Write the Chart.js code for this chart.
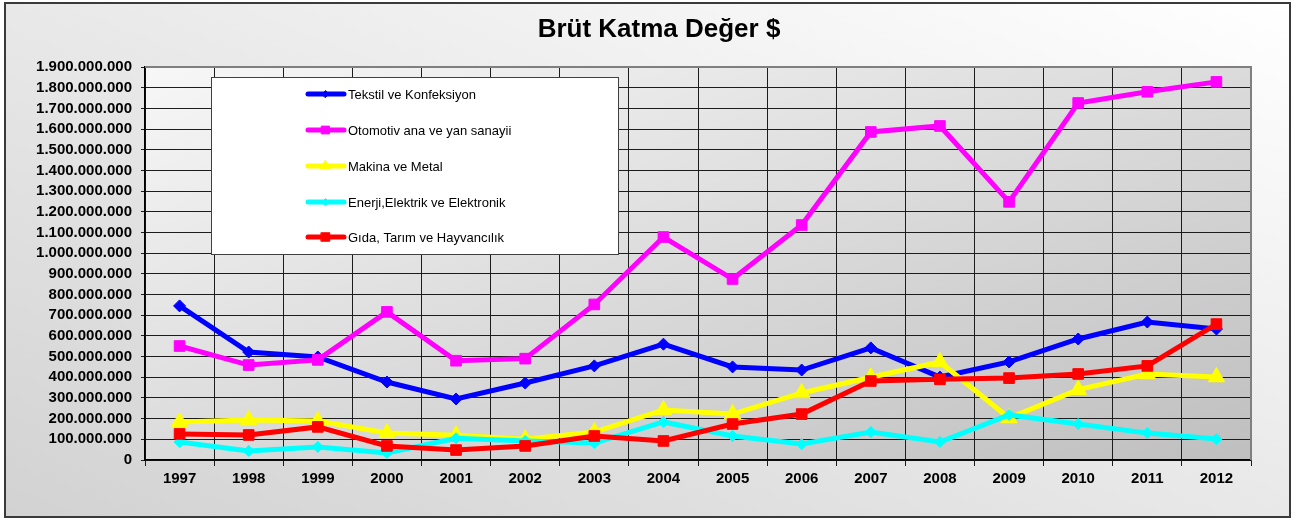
<!DOCTYPE html>
<html lang="tr">
<head>
<meta charset="utf-8">
<title>Brüt Katma Değer $</title>
<script src="https://cdn.jsdelivr.net/npm/chart.js@4.4.1/dist/chart.umd.min.js"></script>
<style>
    html, body { margin: 0; padding: 0; background: #fff; }
    #wrap { width: 1293px; height: 519px; }
</style>
</head>
<body>
<div id="wrap"><canvas id="myChart" width="1293" height="519"></canvas></div>
<script>
"use strict"

const chartTitle = "Brüt Katma Değer $";
const years = ["1997", "1998", "1999", "2000", "2001", "2002", "2003", "2004",
               "2005", "2006", "2007", "2008", "2009", "2010", "2011", "2012"];

const tekstil  = [745e6, 522e6, 498e6, 377e6, 295e6, 372e6, 455e6, 560e6,
                  450e6, 435e6, 542e6, 401e6, 474e6, 585e6, 667e6, 633e6];
const otomotiv = [551e6, 459e6, 484e6, 716e6, 480e6, 490e6, 752e6, 1078e6,
                  875e6, 1136e6, 1586e6, 1615e6, 1248e6, 1726e6, 1780e6, 1828e6];
const makina   = [184e6, 193e6, 189e6, 131e6, 120e6, 100e6, 135e6, 242e6,
                  222e6, 324e6, 400e6, 474e6, 203e6, 340e6, 416e6, 401e6];
const enerji   = [87e6, 44e6, 63e6, 34e6, 105e6, 92e6, 82e6, 184e6,
                  116e6, 77e6, 135e6, 87e6, 218e6, 174e6, 130e6, 101e6];
const gida     = [126e6, 121e6, 160e6, 68e6, 48e6, 68e6, 116e6, 92e6,
                  174e6, 222e6, 382e6, 390e6, 396e6, 416e6, 455e6, 657e6];

const seriesNames = ["Tekstil ve Konfeksiyon", "Otomotiv ana ve yan sanayii", "Makina ve Metal",
                     "Enerji,Elektrik ve Elektronik", "Gıda, Tarım ve Hayvancılık"];

const yMax = 1900000000;
const yStep = 100000000;

const fontFamily = "Arial, 'Liberation Sans', sans-serif";

// 1234567 -> 1.234.567
function formatDots(value){
    return String(Math.round(value)).replace(/\B(?=(\d{3})+(?!\d))/g, ".");
}

function makeSet(label, data, color, style, radius, order){
    return {
        label: label,
        data: data,
        borderColor: color,
        backgroundColor: color,
        borderWidth: 5,
        pointStyle: style,
        pointRadius: radius,
        pointBackgroundColor: color,
        pointBorderColor: color,
        pointBorderWidth: 1,
        tension: 0,
        order: order
    };
}

const datasets = [
    makeSet(seriesNames[0], tekstil,  "#0000ff", "rectRot",  6,   5),
    makeSet(seriesNames[1], otomotiv, "#ff00ff", "rect",     7.5, 4),
    makeSet(seriesNames[2], makina,   "#ffff00", "triangle", 9.5, 3),
    makeSet(seriesNames[3], enerji,   "#00ffff", "rectRot",  5.5, 2),
    makeSet(seriesNames[4], gida,     "#ff0000", "rect",     7.5, 1)
];

// gradient in normalised box space, so the corners get the colours
function fillBoxGradient(ctx, x, y, w, h, x0, y0, x1, y1, c0, c1){
    ctx.save();
    ctx.translate(x, y);
    ctx.scale(w, h);
    const g = ctx.createLinearGradient(x0, y0, x1, y1);
    g.addColorStop(0, c0);
    g.addColorStop(1, c1);
    ctx.fillStyle = g;
    ctx.fillRect(0, 0, 1, 1);
    ctx.restore();
}

const decorPlugin = {
    id: "decor",
    beforeDraw(chart){
        const ctx = chart.ctx;
        const a = chart.chartArea;
        ctx.save();
        ctx.fillStyle = "#ffffff";
        ctx.fillRect(0, 0, chart.width, chart.height);
        fillBoxGradient(ctx, 5, 3, 1285, 514, 0, 1, 1, 0, "#d2d2d2", "#ffffff");
        fillBoxGradient(ctx, a.left, a.top, a.right - a.left, a.bottom - a.top,
                        0, 0, 1, 1, "#f7f7f7", "#bfbfbf");
        ctx.restore();
    },
    afterDraw(chart){
        const ctx = chart.ctx;
        const a = chart.chartArea;
        ctx.save();

        // plot frame top / right
        ctx.strokeStyle = "#7f7f7f";
        ctx.lineWidth = 2;
        ctx.beginPath();
        ctx.moveTo(a.left, a.top);
        ctx.lineTo(a.right, a.top);
        ctx.lineTo(a.right, a.bottom);
        ctx.stroke();

        // legend box
        ctx.fillStyle = "#ffffff";
        ctx.fillRect(211, 77, 407, 177);
        ctx.strokeStyle = "#404040";
        ctx.lineWidth = 1;
        ctx.strokeRect(211.5, 77.5, 407, 177);

        const rows = [94, 130, 166, 202, 237];
        const legendRadius = [3.5, 5.5, 5.5, 3.5, 6];
        datasets.forEach((ds, i) => {
            const y = rows[i];
            ctx.strokeStyle = ds.borderColor;
            ctx.lineWidth = 5;
            ctx.lineCap = "round";
            ctx.beginPath();
            ctx.moveTo(308, y);
            ctx.lineTo(344, y);
            ctx.stroke();
            ctx.fillStyle = ds.borderColor;
            ctx.lineWidth = 1;
            Chart.helpers.drawPoint(ctx, {
                pointStyle: ds.pointStyle,
                radius: legendRadius[i],
                rotation: 0,
                borderWidth: 1
            }, 325.5, y);
            ctx.fillStyle = "#000000";
            ctx.font = "13px " + fontFamily;
            ctx.textAlign = "left";
            ctx.textBaseline = "middle";
            ctx.fillText(ds.label, 348, y + 1);
        });

        // title
        ctx.fillStyle = "#000000";
        ctx.font = "bold 26px " + fontFamily;
        ctx.textAlign = "center";
        ctx.textBaseline = "middle";
        ctx.fillText(chartTitle, 659, 30);

        // outer frame
        ctx.strokeStyle = "#3a3a3a";
        ctx.lineWidth = 2;
        ctx.strokeRect(5, 3, 1285, 514);
        ctx.restore();
    }
};

const tickFont = { family: fontFamily, size: 15, weight: "bold" };

const ctx = document.getElementById("myChart").getContext("2d");
const myChart = new Chart(ctx, {
    type: "line",
    data: {
        labels: years,
        datasets: datasets
    },
    options: {
        responsive: false,
        animation: false,
        layout: { padding: { left: 0, right: 42, top: 67, bottom: 0 } },
        plugins: {
            legend: { display: false },
            title: { display: false },
            tooltip: { enabled: false }
        },
        scales: {
            x: {
                offset: true,
                grid: { offset: true, color: "#1c1c1c", lineWidth: 1, tickLength: 6 },
                border: { color: "#000000", width: 1.5 },
                ticks: { font: tickFont, color: "#000000", padding: 4, maxRotation: 0, autoSkip: false },
                afterFit: (scale) => { scale.height = 59; }
            },
            y: {
                min: 0,
                max: yMax,
                grid: { color: "#1c1c1c", lineWidth: 1, tickLength: 4 },
                border: { color: "#000000", width: 1.5 },
                ticks: {
                    stepSize: yStep,
                    font: tickFont,
                    color: "#000000",
                    padding: 9,
                    autoSkip: false,
                    callback: (value) => formatDots(value)
                },
                afterFit: (scale) => { scale.width = 145; }
            }
        }
    },
    plugins: [decorPlugin]
});
</script>
</body>
</html>
